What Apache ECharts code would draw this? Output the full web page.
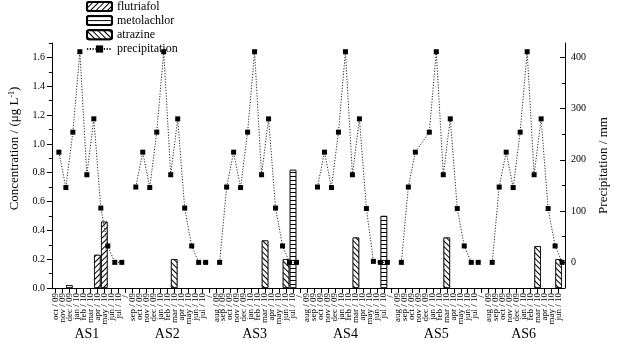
<!DOCTYPE html>
<html><head><meta charset="utf-8">
<script src="https://cdn.jsdelivr.net/npm/echarts@6/dist/echarts.min.js"></script>
<style>html,body{margin:0;padding:0;background:#fff}#c{width:618px;height:343px}</style>
</head><body><div id="c"></div>
<script>
// ---- data ----
const siteNames = ['AS1', 'AS2', 'AS3', 'AS4', 'AS5', 'AS6'];
const gapLabel = ' / ';
const monthsAS1 = ['oct / 09','nov / 09','dec / 09','jan / 10','feb / 10','mar / 10','apr / 10','may / 10','jun / 10','jul / 10'];
const monthsAS2 = ['sep / 09','oct / 09','nov / 09','dec / 09','jan / 10','feb / 10','mar / 10','apr / 10','may / 10','jun / 10','jul / 10'];
const monthsAS3 = ['aug / 09','sep / 09','oct / 09','nov / 09','dec / 09','jan / 10','feb / 10','mar / 10','apr / 10','may / 10','jun / 10','jul / 10'];
const monthsAS4 = ['aug / 09','sep / 09','oct / 09','nov / 09','dec / 09','jan / 10','feb / 10','mar / 10','apr / 10','may / 10','jun / 10','jul / 10'];
const monthsAS5 = ['aug / 09','sep / 09','oct / 09','nov / 09','dec / 09','jan / 10','feb / 10','mar / 10','apr / 10','may / 10','jun / 10','jul / 10'];
const monthsAS6 = ['aug / 09','sep / 09','oct / 09','nov / 09','dec / 09','jan / 10','feb / 10','mar / 10','apr / 10','may / 10','jun / 10'];

// precipitation (mm)
const precipAS1 = [215, 146, 254, 411, 171, 280, 106, 32, 0, 0];
const precipAS2 = [147, 215, 146, 254, 411, 171, 280, 106, 32, 0, 0];
const precipAS3 = [0, 147, 215, 146, 254, 411, 171, 280, 106, 32, 0, 0];
const precipAS4 = [null, 147, 215, 146, 254, 411, 171, 280, 105, 2, 0, 0];
const precipAS5 = [0, 147, 215, null, 254, 411, 171, 280, 105, 32, 0, 0];
const precipAS6 = [0, 147, 215, 146, 254, 411, 171, 280, 105, 32, 0];

// concentrations (ug/L)
const flutriafolAS1 = [null, null, null, null, null, null, 0.23, 0.46, null, null];
const metolachlorAS1 = [null, null, 0.02, null, null, null, null, null, null, null];
const atrazineAS1 = [null, null, null, null, null, null, null, null, null, null];
const flutriafolAS2 = [null, null, null, null, null, null, null, null, null, null, null];
const metolachlorAS2 = [null, null, null, null, null, null, null, null, null, null, null];
const atrazineAS2 = [null, null, null, null, null, null, 0.20, null, null, null, null];
const flutriafolAS3 = [null, null, null, null, null, null, null, null, null, null, null, null];
const metolachlorAS3 = [null, null, null, null, null, null, null, null, null, null, null, 0.82];
const atrazineAS3 = [null, null, null, null, null, null, null, 0.33, null, null, 0.20, null];
const flutriafolAS4 = [null, null, null, null, null, null, null, null, null, null, null, null];
const metolachlorAS4 = [null, null, null, null, null, null, null, null, null, null, null, 0.50];
const atrazineAS4 = [null, null, null, null, null, null, null, 0.35, null, null, null, null];
const flutriafolAS5 = [null, null, null, null, null, null, null, null, null, null, null, null];
const metolachlorAS5 = [null, null, null, null, null, null, null, null, null, null, null, null];
const atrazineAS5 = [null, null, null, null, null, null, null, 0.35, null, null, null, null];
const flutriafolAS6 = [null, null, null, null, null, null, null, null, null, null, null];
const metolachlorAS6 = [null, null, null, null, null, null, null, null, null, null, null];
const atrazineAS6 = [null, null, null, null, null, null, null, 0.29, null, null, 0.20];

const concTicks = [0, 0.2, 0.4, 0.6, 0.8, 1.0, 1.2, 1.4, 1.6];
const concMinorTicks = [0.1, 0.3, 0.5, 0.7, 0.9, 1.1, 1.3, 1.5, 1.7];
const precipTicks = [0, 100, 200, 300, 400];
const precipMinorTicks = [-50, 50, 150, 250, 350];

// ---- build ----
const siteMonths = [monthsAS1, monthsAS2, monthsAS3, monthsAS4, monthsAS5, monthsAS6];
const sitePrecip = [precipAS1, precipAS2, precipAS3, precipAS4, precipAS5, precipAS6];
const siteFlu = [flutriafolAS1, flutriafolAS2, flutriafolAS3, flutriafolAS4, flutriafolAS5, flutriafolAS6];
const siteMet = [metolachlorAS1, metolachlorAS2, metolachlorAS3, metolachlorAS4, metolachlorAS5, metolachlorAS6];
const siteAtr = [atrazineAS1, atrazineAS2, atrazineAS3, atrazineAS4, atrazineAS5, atrazineAS6];

const categories = [], flu = [], met = [], atr = [], ranges = [];
siteMonths.forEach((m, i) => {
  if (i > 0) { categories.push(gapLabel); flu.push(null); met.push(null); atr.push(null); }
  const start = categories.length;
  categories.push(...m); flu.push(...siteFlu[i]); met.push(...siteMet[i]); atr.push(...siteAtr[i]);
  ranges.push([start, categories.length - 1]);
});
const lineCats = [];
for (let j = 0; j <= categories.length; j++) lineCats.push(String(j));

const FONT = "'Liberation Serif', 'Times New Roman', serif";
const INK = '#000';

function hatch(rot) {
  return { symbol: 'rect', symbolSize: 1, dashArrayX: [1, 0], dashArrayY: [1, 2.2], rotation: rot, color: INK, backgroundColor: '#fff' };
}
const barCommon = {
  type: 'bar', xAxisIndex: 0, yAxisIndex: 0, barWidth: 6.5, barGap: '-100%',
  itemStyle: { color: '#fff', borderColor: INK, borderWidth: 0.8 }
};
const series = [
  Object.assign({}, barCommon, { name: 'flutriafol', data: flu, itemStyle: Object.assign({}, barCommon.itemStyle, { decal: hatch(-Math.PI / 4) }) }),
  Object.assign({}, barCommon, { name: 'metolachlor', data: met, itemStyle: Object.assign({}, barCommon.itemStyle, { decal: hatch(0) }) }),
  Object.assign({}, barCommon, { name: 'atrazine', data: atr, itemStyle: Object.assign({}, barCommon.itemStyle, { decal: hatch(Math.PI / 4) }) })
];
ranges.forEach((r, i) => {
  const d = new Array(lineCats.length).fill(null);
  for (let k = r[0]; k <= r[1]; k++) d[k + 1] = sitePrecip[i][k - r[0]];
  series.push({
    name: 'precipitation', type: 'line', xAxisIndex: 1, yAxisIndex: 1, data: d, connectNulls: true,
    symbol: 'rect', symbolSize: 5, showAllSymbol: true, itemStyle: { color: INK },
    lineStyle: { color: '#111', width: 0.9, type: [1.2, 1.6] }, z: 5
  });
});

const chart = echarts.init(document.getElementById('c'), null, { renderer: 'canvas' });
const axisLineStyle = { show: true, lineStyle: { color: INK, width: 1 } };
chart.setOption({
  animation: false,
  backgroundColor: '#fff',
  textStyle: { fontFamily: FONT, color: INK },
  legend: {
    orient: 'vertical', left: 81, top: -4.6, itemWidth: 25, itemHeight: 9, itemGap: 2.2,
    textStyle: { fontFamily: FONT, fontSize: 12, lineHeight: 12, color: INK },
    data: ['flutriafol', 'metolachlor', 'atrazine', 'precipitation']
  },
  grid: { left: 44.4, right: 43, top: 43, bottom: 55, containLabel: false },
  xAxis: [
    {
      type: 'category', data: categories, boundaryGap: true,
      axisLine: axisLineStyle,
      axisTick: { show: true, alignWithLabel: true, interval: 0, length: 5, lineStyle: { color: INK } },
      axisLabel: { interval: 0, rotate: 90, fontSize: 9, margin: 5, color: INK, fontFamily: FONT },
      splitLine: { show: false }
    },
    { type: 'category', data: lineCats, boundaryGap: false, show: false }
  ],
  yAxis: [
    {
      type: 'value', position: 'left', min: 0, max: 1.7,
      name: '{a|Concentration / (μg L}{s|-1}{a|)}', nameLocation: 'middle', nameGap: 28,
      nameTextStyle: { padding: [0, 0, 0, 34], rich: { a: { fontFamily: FONT, fontSize: 13, color: INK }, s: { fontFamily: FONT, fontSize: 8, color: INK, verticalAlign: 'top', padding: [0, 0, 6, 0] } } },
      axisLine: axisLineStyle,
      axisTick: { show: true, length: 5, customValues: concTicks, lineStyle: { color: INK } },
      axisLabel: { customValues: concTicks, formatter: v => v.toFixed(1), fontSize: 10, margin: 7, color: INK, fontFamily: FONT },
      splitLine: { show: false }
    },
    {
      type: 'value', position: 'right', min: -50, max: 428, offset: 3,
      name: 'Precipitation / mm', nameLocation: 'middle', nameGap: 31, nameRotate: 90,
      nameTextStyle: { fontFamily: FONT, fontSize: 13, color: INK },
      axisLine: axisLineStyle,
      axisTick: { show: true, inside: true, length: 5, customValues: precipTicks, lineStyle: { color: INK } },
      axisLabel: { customValues: precipTicks, fontSize: 10, margin: 6, color: INK, fontFamily: FONT },
      splitLine: { show: false }
    },
    {
      type: 'value', position: 'left', min: 0, max: 1.7,
      axisLine: { show: false }, axisLabel: { show: false }, splitLine: { show: false },
      axisTick: { show: true, length: 3, customValues: concMinorTicks, lineStyle: { color: INK } }
    },
    {
      type: 'value', position: 'right', min: -50, max: 428, offset: 3,
      axisLine: { show: false }, axisLabel: { show: false }, splitLine: { show: false },
      axisTick: { show: true, inside: true, length: 3, customValues: precipMinorTicks, lineStyle: { color: INK } }
    }
  ],
  series: series
});

const graphics = ranges.map((r, i) => {
  const x0 = chart.convertToPixel({ xAxisIndex: 0 }, r[0]);
  const x1 = chart.convertToPixel({ xAxisIndex: 0 }, r[1]);
  return {
    type: 'text', x: (x0 + x1) / 2, y: 334,
    style: { text: siteNames[i], fontFamily: FONT, fontSize: 14, fill: INK, align: 'center', verticalAlign: 'middle' }
  };
});
chart.setOption({ graphic: graphics });
</script>
</body></html>
